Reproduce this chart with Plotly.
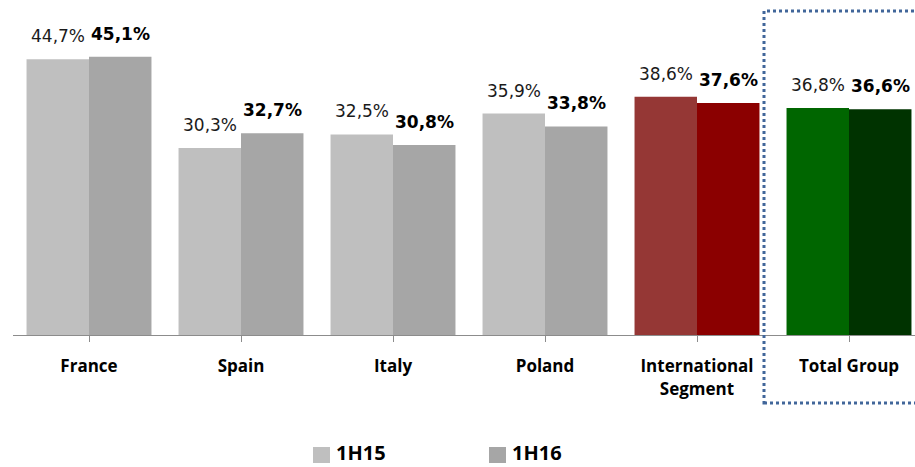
import plotly.graph_objects as go

categories = ["France", "Spain", "Italy", "Poland", "International<br>Segment", "Total Group"]
values_1h15 = [44.7, 30.3, 32.5, 35.9, 38.6, 36.8]
values_1h16 = [45.1, 32.7, 30.8, 33.8, 37.6, 36.6]
series_names = ["1H15", "1H16"]

colors_1h15 = ["#BFBFBF", "#BFBFBF", "#BFBFBF", "#BFBFBF", "#953735", "#006600"]
colors_1h16 = ["#A6A6A6", "#A6A6A6", "#A6A6A6", "#A6A6A6", "#8B0000", "#003300"]

W, H = 915, 467
ML, MR, MT, MB = 13, 0, 0, 132
plot_w = W - ML - MR
plot_h = H - MT - MB
cat_px = 152.0
y_max = plot_h / 6.17

fig = go.Figure()
fig.add_trace(go.Bar(x=list(range(len(categories))), y=values_1h15, name=series_names[0],
                     marker=dict(color=colors_1h15, line=dict(width=0)), showlegend=False))
fig.add_trace(go.Bar(x=list(range(len(categories))), y=values_1h16, name=series_names[1],
                     marker=dict(color=colors_1h16, line=dict(width=0)), showlegend=False))

def fmt(v):
    return f"{v:.1f}%".replace(".", ",")

bar_off = (1 - 0.178) * cat_px / 4
annotations = []
for i, (a, b) in enumerate(zip(values_1h15, values_1h16)):
    annotations.append(dict(x=i, y=a, xref="x", yref="y", text=fmt(a), showarrow=False,
                            xshift=-bar_off, yshift=23, yanchor="middle",
                            font=dict(family="DejaVu Sans", size=17, color="#1a1a1a")))
    annotations.append(dict(x=i, y=b, xref="x", yref="y", text=f"<b>{fmt(b)}</b>", showarrow=False,
                            xshift=bar_off, yshift=23, yanchor="middle",
                            font=dict(family="DejaVu Sans", size=17, color="#000000")))

def px_x(px):
    return (px - ML) / plot_w

def px_y(py):
    return (H - MB - py) / plot_h

# legend: colour square + bold series name
legend_items = [(series_names[0], colors_1h15[0], 313), (series_names[1], colors_1h16[0], 489)]
for name, color, left in legend_items:
    fig.add_shape(type="rect", xref="paper", yref="paper",
                  x0=px_x(left), x1=px_x(left + 17), y0=px_y(463), y1=px_y(447),
                  line=dict(width=0), fillcolor=color)
    annotations.append(dict(x=px_x(left + 21), y=px_y(453), xref="paper", yref="paper",
                            text=f"<b>{name}</b>", showarrow=False, xanchor="left", yanchor="middle",
                            font=dict(family="Open Sans", size=20, color="#000000")))

# dotted frame around the group total
fig.add_shape(type="rect", xref="paper", yref="paper",
              x0=px_x(764), x1=px_x(925), y0=px_y(403), y1=px_y(11),
              line=dict(color="#41669A", width=3, dash="dot"), fillcolor="rgba(0,0,0,0)",
              layer="above")

fig.update_layout(
    width=W, height=H,
    margin=dict(l=ML, r=MR, t=MT, b=MB, autoexpand=False),
    paper_bgcolor="white", plot_bgcolor="white",
    barmode="group", bargap=0.178, bargroupgap=0,
    annotations=annotations,
    showlegend=False,
    xaxis=dict(
        tickmode="array", tickvals=list(range(len(categories))), ticktext=[f"<b>{c}</b>" for c in categories],
        range=[-0.5, -0.5 + plot_w / cat_px],
        showline=True, linecolor="#8C8C8C", linewidth=1,
        ticks="outside", tickson="boundaries", ticklen=6, tickcolor="#8C8C8C",
        tickfont=dict(family="Open Sans", size=17, color="#000000"),
        ticklabelstandoff=10, automargin=False,
        showgrid=False, zeroline=False,
    ),
    yaxis=dict(range=[0, y_max], visible=False, showgrid=False, zeroline=False, automargin=False),
)

fig.write_html("out.html")
